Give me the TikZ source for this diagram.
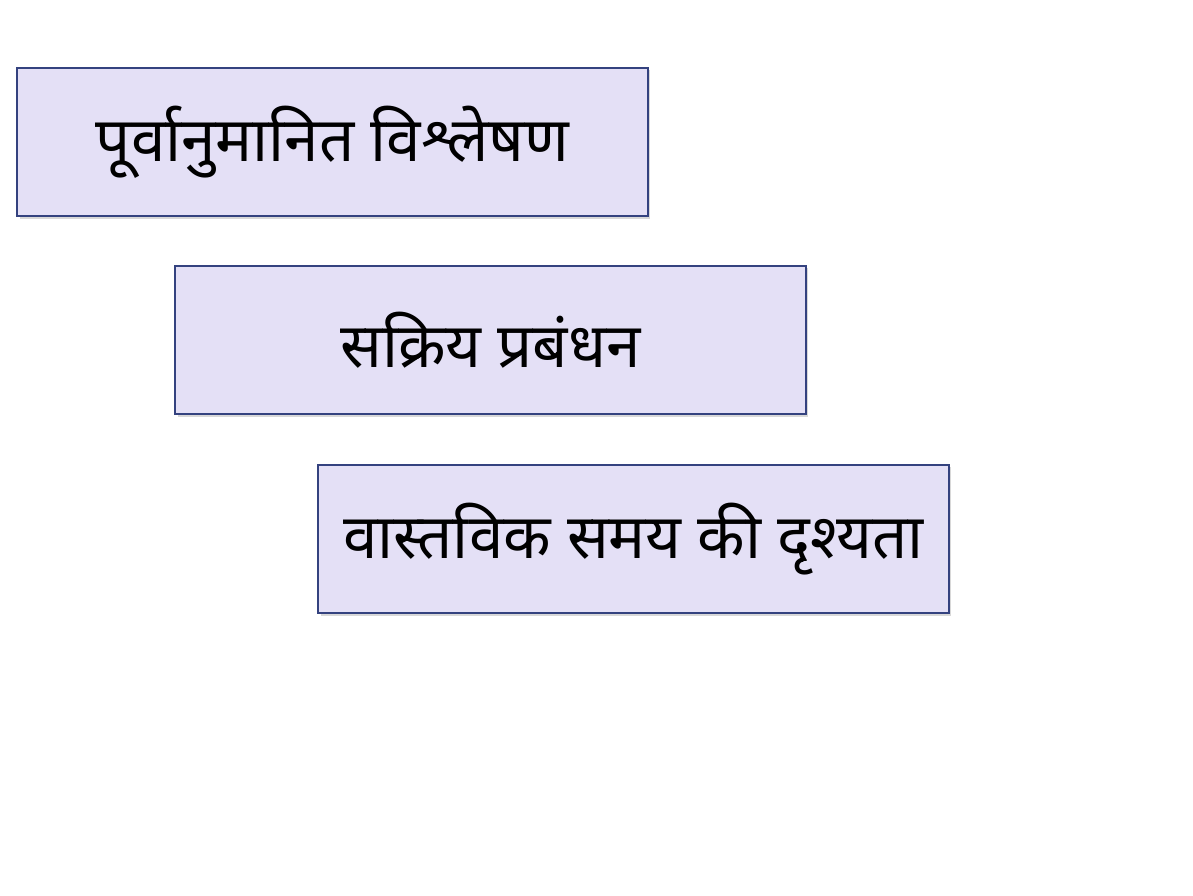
\documentclass[tikz,border=0pt]{standalone}
\usepackage{fontspec}
\newfontfamily\devfont[Script=Devanagari]{Noto Sans}
\usetikzlibrary{%
  positioning,%
  shadows%
}
\definecolor{boxfill}{HTML}{E4E0F6}
\definecolor{boxline}{HTML}{34427F}

\begin{document}
\begin{tikzpicture}[x=0.025cm,y=-0.025cm,
  stage/.style={rectangle,draw=boxline,fill=boxfill,line width=1.5pt,
    minimum width=15.75cm,minimum height=3.72cm,inner sep=0pt,
    font=\devfont\fontsize{44}{50}\selectfont,
    drop shadow={opacity=0.3,shadow xshift=2pt,shadow yshift=-2pt}}]
\useasboundingbox[fill=white] (0,0) rectangle (1193,896);
\node[stage] (forecast) at (332.5,142) {पूर्वानुमानित विश्लेषण};
\node[stage] (manage) at (490.5,340) {सक्रिय प्रबंधन};
\node[stage] (realtime) at (633.5,539) {वास्तविक समय की दृश्यता};
\end{tikzpicture}
\end{document}
